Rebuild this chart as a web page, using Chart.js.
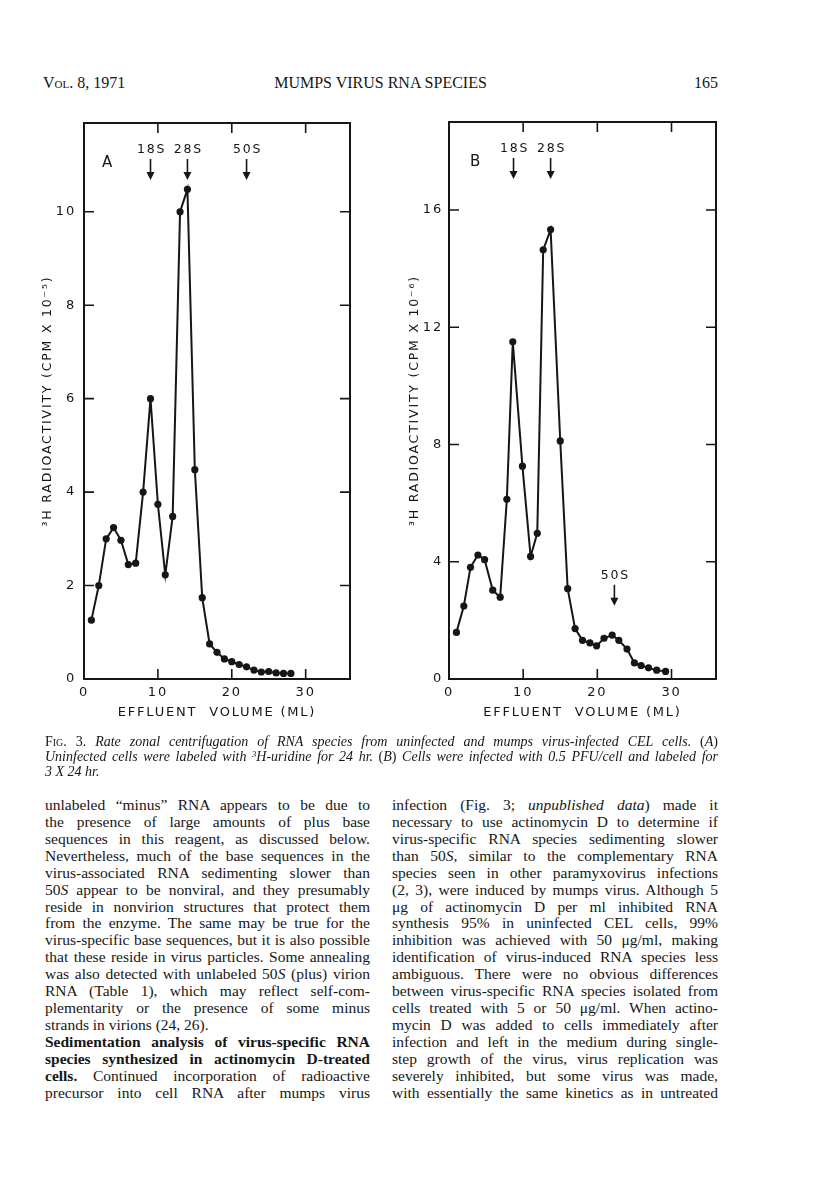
<!DOCTYPE html>
<html>
<head>
<meta charset="utf-8">
<script src="https://cdn.jsdelivr.net/npm/chart.js@4.4.1/dist/chart.umd.min.js"></script>
<style>
  body { margin: 0; background: #fff; width: 816px; height: 1202px; position: relative; overflow: hidden;
         font-family: "Liberation Serif", "Times New Roman", serif; color: #161616; }
  .abs { position: absolute; }
  canvas { position: absolute; }
  .hdr { top: 75px; font-size: 16px; line-height: 16px; white-space: nowrap; }
  .sc { font-variant: small-caps; }
  .ln { position: absolute; text-align: justify; text-align-last: justify; }
  .ln.end { text-align-last: left; }
  .cap { font-size: 14px; line-height: 15px; height: 15px; }
  .txt { font-size: 15.5px; line-height: 16.92px; height: 16.92px; }
  sup { font-size: 0.62em; line-height: 0; vertical-align: 0.45em; }
</style>
</head>
<body>

<div class="abs hdr" style="left:43px"><span class="sc">Vol.</span> 8, 1971</div>
<div class="abs hdr" style="left:43px;width:675px;text-align:center">MUMPS VIRUS RNA SPECIES</div>
<div class="abs hdr" style="right:98px">165</div>

<canvas id="chartA" width="370" height="640" style="left:0px;top:100px"></canvas>
<canvas id="chartB" width="356" height="640" style="left:380px;top:100px"></canvas>

<div id="text"></div>

<script>
// panel A: uninfected cells
const volumeA = [1, 2, 3, 4, 5, 6, 7, 8, 9, 10, 11, 12, 13, 14, 15, 16, 17, 18, 19, 20, 21, 22, 23, 24, 25, 26, 27, 28];
const countsA = [1.26, 2.0, 3.0, 3.24, 2.97, 2.45, 2.48, 4.0, 6.0, 3.74, 2.23, 3.48, 10.0, 10.48,
                 4.48, 1.74, 0.75, 0.57, 0.43, 0.37, 0.31, 0.26, 0.19, 0.15, 0.16, 0.13, 0.12, 0.12];
const markerLabelsA = ['18S', '28S', '50S'];
const markerVolA = [9, 14, 22];
const markerTipA = [null, null, null];
const yTicksA = [0, 2, 4, 6, 8, 10];

// panel B: infected cells
const volumeB = [1.0, 2.0, 2.9, 3.9, 4.8, 5.9, 6.9, 7.8, 8.6, 9.9, 11.0, 11.9, 12.7, 13.7, 15.0, 16.0, 17.0,
                 18.0, 19.0, 19.9, 20.9, 22.0, 22.9, 24.0, 25.0, 25.9, 26.9, 28.0, 29.2];
const countsB = [1.59, 2.49, 3.81, 4.23, 4.07, 3.03, 2.79, 6.13, 11.5, 7.26, 4.18, 4.97, 14.64, 15.33, 8.12,
                 3.08, 1.72, 1.32, 1.23, 1.13, 1.39, 1.50, 1.32, 1.02, 0.55, 0.46, 0.38, 0.30, 0.26];
const markerLabelsB = ['18S', '28S', '50S'];
const markerVolB = [8.7, 13.7, 22.3];
const markerTipB = [null, null, 2.5];
const yTicksB = [0, 4, 8, 12, 16];

const xTicks = [0, 10, 20, 30];

const INK = '#161616';
const LETTERING = '"DejaVu Sans", sans-serif';

// box frame, inward ticks on all four sides, sedimentation arrows and panel letter
const framePlugin = {
  id: 'frame',
  beforeDraw(chart) {
    chart.ctx.letterSpacing = '1.8px';
  },
  afterDraw(chart, args, opts) {
    const { ctx, chartArea: a } = chart;
    const x = chart.scales.x, y = chart.scales.y;
    ctx.save();
    ctx.strokeStyle = INK;
    ctx.fillStyle = INK;
    ctx.lineWidth = 2;
    ctx.strokeRect(a.left, a.top, a.right - a.left, a.bottom - a.top);

    ctx.lineWidth = 1.6;
    ctx.beginPath();
    x.ticks.forEach(t => {
      if (!t.value) return;
      const px = x.getPixelForValue(t.value);
      ctx.moveTo(px, a.top); ctx.lineTo(px, a.top + 10);
      ctx.moveTo(px, a.bottom); ctx.lineTo(px, a.bottom - 10);
    });
    y.ticks.forEach(t => {
      if (!t.value) return;
      const py = y.getPixelForValue(t.value);
      ctx.moveTo(a.left, py); ctx.lineTo(a.left + 10, py);
      ctx.moveTo(a.right, py); ctx.lineTo(a.right - 10, py);
    });
    ctx.stroke();

    ctx.font = '12.5px ' + LETTERING;
    ctx.textAlign = 'center';
    ctx.textBaseline = 'middle';
    opts.labels.forEach((lab, i) => {
      const px = x.getPixelForValue(opts.vols[i]);
      const tip = opts.tips[i] == null ? a.top + 57 : y.getPixelForValue(opts.tips[i]);
      const tail = tip - 21;
      ctx.lineWidth = 1.6;
      ctx.beginPath();
      ctx.moveTo(px, tail); ctx.lineTo(px, tip - 6);
      ctx.stroke();
      ctx.beginPath();
      ctx.moveTo(px - 4, tip - 8); ctx.lineTo(px + 4, tip - 8); ctx.lineTo(px, tip);
      ctx.closePath();
      ctx.fill();
      ctx.fillText(lab, px + 1, tail - 9);
    });

    ctx.font = '15px ' + LETTERING;
    ctx.fillText(opts.letter, a.left + opts.letterDx, a.top + 40);
    ctx.restore();
  }
};

function makeChart(id, vols, counts, yMax, yTicks, yTitle, yWidth, yTitlePad, yTickPad, padTop, marks) {
  return new Chart(document.getElementById(id), {
    type: 'scatter',
    data: {
      datasets: [{
        data: vols.map((v, i) => ({ x: v, y: counts[i] })),
        showLine: true,
        borderColor: INK,
        borderWidth: 2,
        pointRadius: 3.6,
        pointBackgroundColor: INK,
        pointBorderWidth: 0,
        tension: 0
      }]
    },
    options: {
      responsive: false,
      animation: false,
      layout: { padding: { top: padTop, right: 20, bottom: 0, left: 0 } },
      plugins: {
        legend: { display: false },
        tooltip: { enabled: false },
        frame: marks
      },
      scales: {
        x: {
          type: 'linear', min: 0, max: 36,
          afterBuildTicks: s => { s.ticks = xTicks.map(v => ({ value: v })); },
          afterFit: s => { s.height = 61; },
          grid: { display: false, drawTicks: false },
          border: { display: false },
          ticks: { color: INK, padding: 6, font: { family: LETTERING, size: 13 } },
          title: { display: true, text: 'EFFLUENT  VOLUME (ML)', color: INK,
                   font: { family: LETTERING, size: 13 }, padding: { top: 0, bottom: 20 } }
        },
        y: {
          type: 'linear', min: 0, max: yMax,
          afterBuildTicks: s => { s.ticks = yTicks.map(v => ({ value: v })); },
          afterFit: s => { s.width = yWidth; },
          grid: { display: false, drawTicks: false },
          border: { display: false },
          ticks: { color: INK, padding: yTickPad, font: { family: LETTERING, size: 13 } },
          title: { display: true, text: yTitle, color: INK,
                   font: { family: LETTERING, size: 12.5 }, padding: { top: yTitlePad, bottom: 0 } }
        }
      }
    },
    plugins: [framePlugin]
  });
}

makeChart('chartA', volumeA, countsA, 11.9, yTicksA, '³H RADIOACTIVITY (CPM X 10⁻⁵)', 84, 40, 8, 23,
  { labels: markerLabelsA, vols: markerVolA, tips: markerTipA, letter: 'A', letterDx: 24 });
makeChart('chartB', volumeB, countsB, 19, yTicksB, '³H RADIOACTIVITY (CPM X 10⁻⁶)', 69, 27, 6, 22,
  { labels: markerLabelsB, vols: markerVolB, tips: markerTipB, letter: 'B', letterDx: 27 });

// caption and body text, one justified line per entry
const captionLines = [
  '<span class="sc">Fig.</span> 3. <i>Rate zonal centrifugation of RNA species from uninfected and mumps virus-infected CEL cells.</i> (<i>A</i>)',
  '<i>Uninfected cells were labeled with <sup>3</sup>H-uridine for 24 hr.</i> (<i>B</i>) <i>Cells were infected with 0.5 PFU/cell and labeled for</i>',
  '<i>3 X 24 hr.</i>'
];
const leftLines = [
  'unlabeled \u201cminus\u201d RNA appears to be due to',
  'the presence of large amounts of plus base',
  'sequences in this reagent, as discussed below.',
  'Nevertheless, much of the base sequences in the',
  'virus-associated RNA sedimenting slower than',
  '50<i>S</i> appear to be nonviral, and they presumably',
  'reside in nonvirion structures that protect them',
  'from the enzyme. The same may be true for the',
  'virus-specific base sequences, but it is also possible',
  'that these reside in virus particles. Some annealing',
  'was also detected with unlabeled 50<i>S</i> (plus) virion',
  'RNA (Table 1), which may reflect self-com-',
  'plementarity or the presence of some minus',
  'strands in virions (24, 26).',
  '<b>Sedimentation analysis of virus-specific RNA</b>',
  '<b>species synthesized in actinomycin D-treated</b>',
  '<b>cells.</b> Continued incorporation of radioactive',
  'precursor into cell RNA after mumps virus'
];
const rightLines = [
  'infection (Fig. 3; <i>unpublished data</i>) made it',
  'necessary to use actinomycin D to determine if',
  'virus-specific RNA species sedimenting slower',
  'than 50<i>S</i>, similar to the complementary RNA',
  'species seen in other paramyxovirus infections',
  '(2, 3), were induced by mumps virus. Although 5',
  '\u03bcg of actinomycin D per ml inhibited RNA',
  'synthesis 95% in uninfected CEL cells, 99%',
  'inhibition was achieved with 50 \u03bcg/ml, making',
  'identification of virus-induced RNA species less',
  'ambiguous. There were no obvious differences',
  'between virus-specific RNA species isolated from',
  'cells treated with 5 or 50 \u03bcg/ml. When actino-',
  'mycin D was added to cells immediately after',
  'infection and left in the medium during single-',
  'step growth of the virus, virus replication was',
  'severely inhibited, but some virus was made,',
  'with essentially the same kinetics as in untreated'
];

const holder = document.getElementById('text');
function addLines(lines, cls, left, width, top, pitch, endIdx) {
  lines.forEach((html, i) => {
    const d = document.createElement('div');
    d.className = 'ln ' + cls + (endIdx.includes(i) ? ' end' : '');
    d.style.left = left + 'px';
    d.style.width = width + 'px';
    d.style.top = (top + i * pitch) + 'px';
    d.style.whiteSpace = 'nowrap';
    d.innerHTML = html;
    holder.appendChild(d);
    // shrink a line slightly if it would not fit on one row
    if (d.scrollWidth > width) {
      const fs = parseFloat(getComputedStyle(d).fontSize);
      d.style.fontSize = (fs * width / d.scrollWidth - 0.05) + 'px';
    }
    d.style.whiteSpace = 'normal';
  });
}
addLines(captionLines, 'cap', 45, 673, 734, 15, [2]);
addLines(leftLines, 'txt', 45, 325, 797, 16.92, [13]);
addLines(rightLines, 'txt', 392, 326, 797, 16.92, []);
</script>
</body>
</html>
